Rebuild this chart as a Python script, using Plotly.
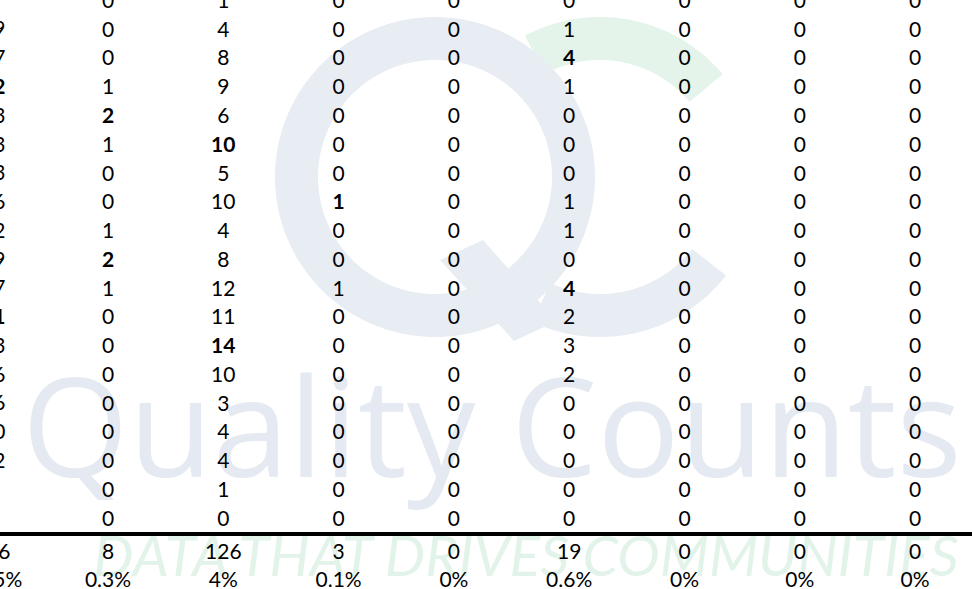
import math
import plotly.graph_objects as go

# ---------------- data ----------------
row_ids = [0, 1, 2, 3, 4, 5, 6, 7, 8, 9, 10, 11, 12, 13, 14, 15, 16, 17, 18]
col0 = ["", "39", "27", "52", "33", "43", "33", "36", "32", "29", "37", "51", "33", "36", "26", "20", "32", "", ""]
col1 = [0, 0, 0, 1, 2, 1, 0, 0, 1, 2, 1, 0, 0, 0, 0, 0, 0, 0, 0]
col2 = [1, 4, 8, 9, 6, 10, 5, 10, 4, 8, 12, 11, 14, 10, 3, 4, 4, 1, 0]
col3 = [0, 0, 0, 0, 0, 0, 0, 1, 0, 0, 1, 0, 0, 0, 0, 0, 0, 0, 0]
col4 = [0, 0, 0, 0, 0, 0, 0, 0, 0, 0, 0, 0, 0, 0, 0, 0, 0, 0, 0]
col5 = [0, 1, 4, 1, 0, 0, 0, 1, 1, 0, 4, 2, 3, 2, 0, 0, 0, 0, 0]
col6 = [0, 0, 0, 0, 0, 0, 0, 0, 0, 0, 0, 0, 0, 0, 0, 0, 0, 0, 0]
col7 = [0, 0, 0, 0, 0, 0, 0, 0, 0, 0, 0, 0, 0, 0, 0, 0, 0, 0, 0]
col8 = [0, 0, 0, 0, 0, 0, 0, 0, 0, 0, 0, 0, 0, 0, 0, 0, 0, 0, 0]
totals = ["556", "8", "126", "3", "0", "19", "0", "0", "0"]
percents = ["17.5%", "0.3%", "4%", "0.1%", "0%", "0.6%", "0%", "0%", "0%"]
bold_cells = {(0, 3), (0, 11), (1, 4), (1, 9), (2, 5), (2, 12), (3, 7), (5, 2), (5, 10)}

columns = [col0, col1, col2, col3, col4, col5, col6, col7, col8]

# ---------------- geometry (pixels -> axis units) ----------------
W, H = 972, 589
COL_PITCH = 115.3
COL0_PX = -7.3
ROW_PITCH = 28.76
ROW0_PX = 2.7

def xu(px):
    return (px - COL0_PX) / COL_PITCH

def yu(py):
    return (py - ROW0_PX) / ROW_PITCH

TOTAL_Y = yu(553.5)
PCT_Y = yu(581.5)
RULE_Y = yu(534)

FONT = "Lato, 'Open Sans', sans-serif"
BLUEGREY = "#e8ecf3"
GREEN = "#e4f4ea"

fig = go.Figure()

# ---------------- watermark text (drawn first, below digits) ----------------
fig.add_trace(go.Scatter(
    x=[xu(492)], y=[yu(443)], mode="text", text=["Quality Counts"],
    textfont=dict(family="'Open Sans', Lato, sans-serif", size=137, color="#e5eaf2"),
    hoverinfo="skip", showlegend=False, cliponaxis=False))
fig.add_trace(go.Scatter(
    x=[xu(526)], y=[yu(562)], mode="text", text=["DATA THAT DRIVES COMMUNITIES"],
    textfont=dict(family=FONT, size=57, color="#e2f3e9", style="italic"),
    hoverinfo="skip", showlegend=False, cliponaxis=False))

# ---------------- table cells ----------------
def fmt(ci, ri, v):
    s = str(v)
    if (ci, ri) in bold_cells and s != "":
        s = "<b>" + s + "</b>"
    return s

annotations = []
for ci, col in enumerate(columns):
    texts = [fmt(ci, ri, v) for ri, v in zip(row_ids, col)] + [totals[ci], percents[ci]]
    ys = list(row_ids) + [TOTAL_Y, PCT_Y]
    if ci == 0:
        # first column sits partly beyond the left edge: drawn as paper-anchored labels
        for t, yv in zip(texts, ys):
            if t == "":
                continue
            annotations.append(dict(
                x=COL0_PX / W, xref="paper", y=yv, yref="y", text=t,
                showarrow=False, xanchor="center", yanchor="middle", yshift=3.5,
                font=dict(family=FONT, size=21, color="#000000")))
        continue
    fig.add_trace(go.Scatter(
        x=[ci] * len(ys), y=ys, mode="text", text=texts,
        textposition="middle center",
        textfont=dict(family=FONT, size=21, color="#000000"),
        hoverinfo="skip", showlegend=False, cliponaxis=False))

# ---------------- watermark logo shapes ----------------
def P(px, py):
    return px / W, 1 - py / H

def arc_pts(cx, cy, r, a0, a1, n=90):
    pts = []
    for k in range(n + 1):
        a = math.radians(a0 + (a1 - a0) * k / n)
        pts.append((cx + r * math.cos(a), cy - r * math.sin(a)))
    return pts

def path_from(pts_list):
    segs = []
    for pts in pts_list:
        s = ""
        for k, (px, py) in enumerate(pts):
            x, y = P(px, py)
            s += ("M" if k == 0 else "L") + f"{x:.5f},{y:.5f} "
        segs.append(s + "Z")
    return " ".join(segs)

shapes = []
cCx, cCy, R, r = 600, 177, 160, 117
green = arc_pts(cCx, cCy, R, 40, 118) + arc_pts(cCx, cCy, r, 118, 40)
shapes.append(dict(type="path", xref="paper", yref="paper", layer="below",
                   path=path_from([green]), fillcolor=GREEN, line=dict(width=0)))
lowC = arc_pts(cCx, cCy, R, -38, -115) + arc_pts(cCx, cCy, r, -115, -38)
shapes.append(dict(type="path", xref="paper", yref="paper", layer="below",
                   path=path_from([lowC]), fillcolor=BLUEGREY, line=dict(width=0)))
qCx, qCy = 435, 177
outer = arc_pts(qCx, qCy, R, 0, 360, 180)
inner = arc_pts(qCx, qCy, r, 360, 0, 180)
shapes.append(dict(type="path", xref="paper", yref="paper", layer="below",
                   path=path_from([outer, inner]), fillcolor=BLUEGREY, line=dict(width=0)))
tail = [(483, 240), (507, 267), (557, 321), (514, 341), (440, 260)]
shapes.append(dict(type="path", xref="paper", yref="paper", layer="below",
                   path=path_from([tail]), fillcolor=BLUEGREY, line=dict(width=0)))

shapes.append(dict(type="line", xref="paper", yref="y", x0=0, x1=1,
                   y0=RULE_Y, y1=RULE_Y, line=dict(color="#000000", width=4),
                   layer="above"))

fig.update_layout(
    width=W, height=H,
    margin=dict(l=0, r=0, t=0, b=0),
    paper_bgcolor="white", plot_bgcolor="rgba(0,0,0,0)",
    shapes=shapes, annotations=annotations,
    xaxis=dict(range=[xu(0), xu(W)], visible=False, fixedrange=True),
    yaxis=dict(range=[yu(H), yu(0)], visible=False, fixedrange=True),
    showlegend=False,
)

fig.write_html("out.html", config={"displayModeBar": False},
               post_script="document.body.style.margin='0';document.body.style.overflow='hidden';")
